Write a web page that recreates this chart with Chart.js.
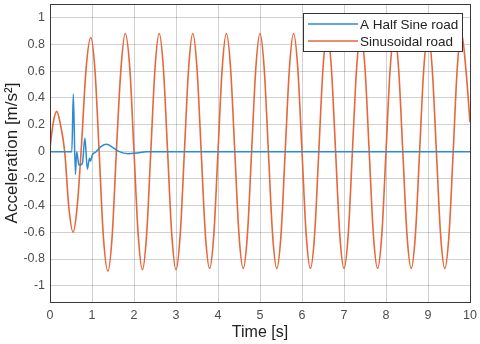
<!DOCTYPE html>
<html>
<head>
<meta charset="utf-8">
<script src="https://cdn.jsdelivr.net/npm/chart.js@4"></script>
<style>
  html, body { margin: 0; padding: 0; background: #fff; }
  #wrap { width: 480px; height: 344px; position: relative; }
</style>
</head>
<body>
<div id="wrap"><canvas id="my-chart" width="480" height="344"></canvas></div>
<script>
'use strict';

// *********** DATA ***************************************

let xTicks = [0, 1, 2, 3, 4, 5, 6, 7, 8, 9, 10];
let yTicks = [-1, -0.8, -0.6, -0.4, -0.2, 0, 0.2, 0.4, 0.6, 0.8, 1];

let seriesNames = ['A Half Sine road', 'Sinusoidal road'];

// half sine road response
let halfSineTime = [0, 0.52, 0.555, 0.605, 0.635, 0.69, 0.77, 0.83, 0.89, 0.94, 0.97, 1.0, 1.1, 1.22, 1.35, 1.5, 1.65, 1.86, 2.05, 2.3, 3, 10];
let halfSineAcc = [0, 0, 0.43, -0.17, 0.0, -0.10, -0.09, 0.10, -0.13, -0.05, -0.07, -0.03, 0.0, 0.04, 0.055, 0.03, 0.0, -0.015, -0.01, 0, 0, 0];

// sinusoidal road response
let sineTime = [0, 0.08, 0.16, 0.25, 0.35, 0.45, 0.55, 0.65, 0.75, 0.86, 0.97, 1.07, 1.17, 1.27, 1.38, 1.48, 1.58, 1.69, 1.79,
  1.9, 2.0, 2.1, 2.2, 2.3, 2.4, 2.5, 2.6, 2.7, 2.8, 2.9, 3.0, 3.1, 3.2, 3.3, 3.4, 3.5, 3.6, 3.7, 3.8, 3.9, 4.0,
  4.1, 4.2, 4.3, 4.4, 4.5, 4.6, 4.7, 4.8, 4.9, 5.0, 5.1, 5.2, 5.3, 5.4, 5.5, 5.6, 5.7, 5.8, 5.9, 6.0,
  6.1, 6.2, 6.3, 6.4, 6.5, 6.6, 6.7, 6.8, 6.9, 7.0, 7.1, 7.2, 7.3, 7.4, 7.5, 7.6, 7.7, 7.8, 7.9, 8.0,
  8.1, 8.2, 8.3, 8.4, 8.5, 8.6, 8.7, 8.8, 8.9, 9.0, 9.1, 9.2, 9.3, 9.4, 9.5, 9.6, 9.7, 9.8, 9.9, 10.0];
let sineAcc = [0.03, 0.22, 0.30, 0.20, 0.0, -0.42, -0.60, -0.40, 0.05, 0.62, 0.85, 0.61, 0.0, -0.63, -0.89, -0.63, 0.0, 0.62, 0.88,
  0.62, 0.0, -0.62, -0.88, -0.62, 0.0, 0.62, 0.88, 0.62, 0.0, -0.62, -0.88, -0.62, 0.0, 0.62, 0.88, 0.62, 0.0, -0.62, -0.87, -0.62, 0.0,
  0.62, 0.88, 0.62, 0.0, -0.62, -0.87, -0.62, 0.0, 0.62, 0.88, 0.62, 0.0, -0.62, -0.87, -0.62, 0.0, 0.62, 0.88, 0.62, 0.0,
  -0.62, -0.87, -0.62, 0.0, 0.62, 0.88, 0.62, 0.0, -0.62, -0.87, -0.62, 0.0, 0.62, 0.88, 0.62, 0.0, -0.62, -0.87, -0.62, 0.0,
  0.62, 0.88, 0.62, 0.0, -0.62, -0.87, -0.62, 0.0, 0.62, 0.88, 0.62, 0.0, -0.62, -0.87, -0.62, 0.0, 0.64, 0.88, 0.62, 0.22];

let colors = ['#2b8bd3', '#e4683c'];

// *********** HELPERS ****************

function toPoints(xs, ys) {
  let pts = [];
  for (let i = 0; i < xs.length; i++) {
    pts.push({ x: xs[i], y: ys[i] });
  }
  return pts;
}

function fmt(v) {
  return String(Math.round(v * 10) / 10);
}

// box around the axes + legend inside plot, matlab style
let boxAndLegend = {
  id: 'boxAndLegend',
  afterDraw(chart) {
    let ctx = chart.ctx;
    let a = chart.chartArea;
    ctx.save();
    ctx.strokeStyle = '#3a3a3a';
    ctx.lineWidth = 1;
    ctx.strokeRect(Math.round(a.left) + 0.5, Math.round(a.top) + 0.5, Math.round(a.right - a.left), Math.round(a.bottom - a.top));

    // legend
    let lx = 303, ly = 13, lw = 159, lh = 38;
    ctx.fillStyle = '#fff';
    ctx.fillRect(lx, ly, lw, lh);
    ctx.strokeStyle = '#333';
    ctx.strokeRect(lx + 0.5, ly + 0.5, lw, lh);
    ctx.font = '13.5px "Liberation Sans", Arial, sans-serif';
    ctx.textBaseline = 'middle';
    ctx.textAlign = 'left';
    for (let i = 0; i < seriesNames.length; i++) {
      let yy = ly + 11 + i * 17;
      ctx.strokeStyle = colors[i];
      ctx.lineWidth = 1.5;
      ctx.beginPath();
      ctx.moveTo(308, yy);
      ctx.lineTo(358, yy);
      ctx.stroke();
      ctx.fillStyle = '#222';
      ctx.fillText(seriesNames[i], 360, yy + 1);
    }
    ctx.restore();
  }
};

// *********** RENDER CHART ****************

let ctx = document.getElementById('my-chart').getContext('2d');

let myChartObj = {
  type: 'scatter',
  data: {
    datasets: [{
      label: seriesNames[0],
      data: toPoints(halfSineTime, halfSineAcc),
      showLine: true,
      borderColor: colors[0],
      borderWidth: 1.5,
      pointRadius: 0,
      cubicInterpolationMode: 'monotone'
    },
    {
      label: seriesNames[1],
      data: toPoints(sineTime, sineAcc),
      showLine: true,
      borderColor: colors[1],
      borderWidth: 1.6,
      pointRadius: 0,
      cubicInterpolationMode: 'monotone'
    }]
  },
  options: {
    responsive: false,
    animation: false,
    layout: { padding: { top: 4, right: 10, left: 0, bottom: 0 } },
    plugins: {
      legend: { display: false },
      tooltip: { enabled: false }
    },
    scales: {
      x: {
        type: 'linear',
        min: 0,
        max: 10,
        afterBuildTicks: (scale) => { scale.ticks = xTicks.map(v => ({ value: v })); },
        afterFit: (scale) => {
          scale.height = 42;
          scale.paddingLeft = 0;
          scale.paddingRight = 0;
        },
        grid: { color: 'rgba(0,0,0,0.18)', drawTicks: false },
        border: { display: false },
        ticks: {
          padding: 6,
          color: '#4d4d4d',
          font: { family: '"Liberation Sans", Arial, sans-serif', size: 12.5 },
          maxRotation: 0,
          callback: (v) => fmt(v)
        },
        title: {
          display: true,
          text: 'Time [s]',
          color: '#222',
          padding: { top: 0, bottom: 2 },
          font: { family: '"Liberation Sans", Arial, sans-serif', size: 16 }
        }
      },
      y: {
        type: 'linear',
        min: -1.12,
        max: 1.1,
        afterBuildTicks: (scale) => { scale.ticks = yTicks.map(v => ({ value: v })); },
        afterFit: (scale) => {
          scale.width = 50;
          scale.paddingTop = 0;
          scale.paddingBottom = 0;
        },
        grid: { color: 'rgba(0,0,0,0.18)', drawTicks: false },
        border: { display: false },
        ticks: {
          padding: 5,
          color: '#4d4d4d',
          font: { family: '"Liberation Sans", Arial, sans-serif', size: 12.5 },
          callback: (v) => fmt(v)
        },
        title: {
          display: true,
          text: 'Acceleration [m/s²]',
          color: '#222',
          padding: { top: 2, bottom: 0 },
          font: { family: '"Liberation Sans", Arial, sans-serif', size: 17 }
        }
      }
    }
  },
  plugins: [boxAndLegend]
};

new Chart(ctx, myChartObj);
</script>
</body>
</html>
